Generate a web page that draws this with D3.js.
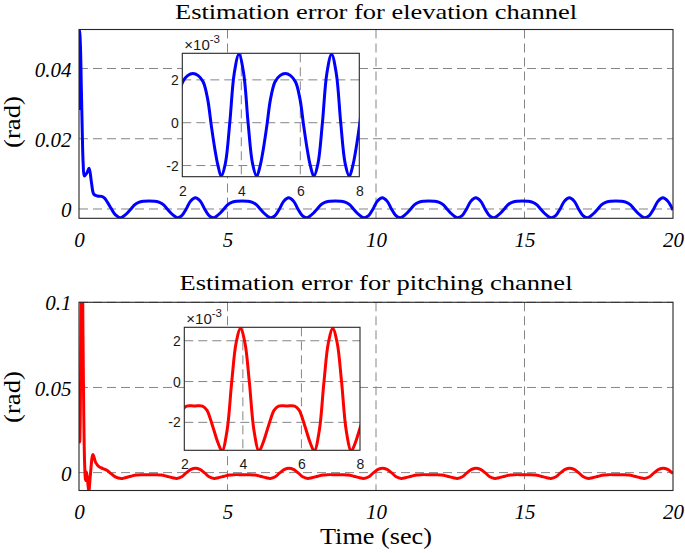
<!DOCTYPE html>
<html><head><meta charset="utf-8">
<script src="https://cdn.jsdelivr.net/npm/d3@7"></script>
<style>body{margin:0;background:#fff}svg{display:block}</style>
</head><body><svg id="c" width="685" height="553"></svg>
<script>
// ---------- data ----------
const timeElev = [0.00,0.02,0.05,0.08,0.11,0.14,0.18,0.26,0.34,0.42,0.50,0.62,0.76,0.86,0.96,1.08,1.22,1.40,
 1.51,1.62,1.74,1.86,2.01,2.18,2.36,2.54,2.71,2.86,2.98,3.10,3.21,3.32,
 3.46,3.61,3.76,3.92,4.08,4.23,4.38,4.52,
 4.64,4.75,4.87,4.99,5.14,5.31,5.49,5.67,5.84,5.99,6.11,6.23,6.34,6.46,
 6.60,6.75,6.90,7.06,7.22,7.37,7.52,7.66,
 7.78,7.89,8.01,8.13,8.28,8.45,8.63,8.81,8.98,9.13,9.25,9.37,9.48,9.60,
 9.75,9.90,10.05,10.21,10.37,10.52,10.67,10.81,
 10.93,11.04,11.16,11.28,11.43,11.60,11.78,11.96,12.13,12.28,12.40,12.52,12.63,12.75,
 12.90,13.05,13.20,13.36,13.52,13.67,13.82,13.96,
 14.08,14.19,14.31,14.43,14.58,14.75,14.93,15.11,15.28,15.43,15.55,15.67,15.78,15.90,
 16.05,16.20,16.35,16.51,16.67,16.82,16.97,17.11,
 17.23,17.34,17.46,17.58,17.73,17.90,18.08,18.26,18.43,18.58,18.70,18.82,18.93,19.05,
 19.20,19.35,19.50,19.66,19.82,20.00];
const errElev = [0.0282,0.0509,0.0460,0.0340,0.0220,0.0130,0.0094,0.0102,0.0116,0.0075,0.0042,0.0037,0.0036,0.0031,0.0019,0.0002,-0.0016,-0.0025,
 -0.0020,-0.0012,-0.0001,0.0011,0.0019,0.0022,0.0023,0.0022,0.0019,0.0011,-0.0001,-0.0012,-0.0020,-0.0025,
 -0.0019,0.0000,0.0023,0.0032,0.0023,0.0000,-0.0019,-0.0025,
 -0.0020,-0.0012,-0.0001,0.0011,0.0019,0.0022,0.0023,0.0022,0.0019,0.0011,-0.0001,-0.0012,-0.0020,-0.0025,
 -0.0019,0.0000,0.0023,0.0032,0.0023,0.0000,-0.0019,-0.0025,
 -0.0020,-0.0012,-0.0001,0.0011,0.0019,0.0022,0.0023,0.0022,0.0019,0.0011,-0.0001,-0.0012,-0.0020,-0.0025,
 -0.0019,0.0000,0.0023,0.0032,0.0023,0.0000,-0.0019,-0.0025,
 -0.0020,-0.0012,-0.0001,0.0011,0.0019,0.0022,0.0023,0.0022,0.0019,0.0011,-0.0001,-0.0012,-0.0020,-0.0025,
 -0.0019,0.0000,0.0023,0.0032,0.0023,0.0000,-0.0019,-0.0025,
 -0.0020,-0.0012,-0.0001,0.0011,0.0019,0.0022,0.0023,0.0022,0.0019,0.0011,-0.0001,-0.0012,-0.0020,-0.0025,
 -0.0019,0.0000,0.0023,0.0032,0.0023,0.0000,-0.0019,-0.0025,
 -0.0020,-0.0012,-0.0001,0.0011,0.0019,0.0022,0.0023,0.0022,0.0019,0.0011,-0.0001,-0.0012,-0.0020,-0.0025,
 -0.0019,0.0000,0.0023,0.0032,0.0023,-0.0003];

const timePitch = [0.000,0.008,0.016,0.025,0.040,0.060,0.085,0.110,0.135,0.160,0.190,0.220,0.250,0.280,0.330,0.380,0.470,0.560,0.670,0.800,0.950,1.080,1.220,1.420,
 1.55,1.75,1.93,2.08,2.35,2.62,2.77,2.95,3.15,3.29,
 3.46,3.62,3.77,3.92,4.07,4.22,4.38,4.55,
 4.69,4.89,5.07,5.22,5.50,5.77,5.92,6.10,6.30,6.44,
 6.61,6.77,6.92,7.07,7.22,7.37,7.53,7.70,
 7.84,8.04,8.22,8.37,8.65,8.92,9.07,9.25,9.45,9.59,
 9.76,9.92,10.07,10.22,10.37,10.52,10.68,10.85,
 10.99,11.19,11.37,11.52,11.80,12.07,12.22,12.40,12.60,12.74,
 12.91,13.07,13.22,13.37,13.52,13.67,13.83,14.00,
 14.14,14.34,14.52,14.67,14.95,15.22,15.37,15.55,15.75,15.89,
 16.06,16.22,16.37,16.52,16.67,16.82,16.98,17.15,
 17.29,17.49,17.67,17.82,18.10,18.37,18.52,18.70,18.90,19.04,
 19.21,19.37,19.52,19.67,19.82,20.00];
const errPitch = [0.0410,0.0250,0.0380,0.0180,0.0300,0.0700,0.1080,0.1150,0.0800,0.0350,0.0050,-0.0046,0.0003,-0.0030,-0.0112,-0.0020,0.0107,0.0060,0.0035,0.0024,0.0012,-0.0006,-0.0025,-0.0035,
 -0.0030,-0.0021,-0.0014,-0.0012,-0.0012,-0.0012,-0.0014,-0.0021,-0.0030,-0.0034,
 -0.0024,0.0000,0.0019,0.0026,0.0019,0.0000,-0.0024,-0.0034,
 -0.0030,-0.0021,-0.0014,-0.0012,-0.0012,-0.0012,-0.0014,-0.0021,-0.0030,-0.0034,
 -0.0024,0.0000,0.0019,0.0026,0.0019,0.0000,-0.0024,-0.0034,
 -0.0030,-0.0021,-0.0014,-0.0012,-0.0012,-0.0012,-0.0014,-0.0021,-0.0030,-0.0034,
 -0.0024,0.0000,0.0019,0.0026,0.0019,0.0000,-0.0024,-0.0034,
 -0.0030,-0.0021,-0.0014,-0.0012,-0.0012,-0.0012,-0.0014,-0.0021,-0.0030,-0.0034,
 -0.0024,0.0000,0.0019,0.0026,0.0019,0.0000,-0.0024,-0.0034,
 -0.0030,-0.0021,-0.0014,-0.0012,-0.0012,-0.0012,-0.0014,-0.0021,-0.0030,-0.0034,
 -0.0024,0.0000,0.0019,0.0026,0.0019,0.0000,-0.0024,-0.0034,
 -0.0030,-0.0021,-0.0014,-0.0012,-0.0012,-0.0012,-0.0014,-0.0021,-0.0030,-0.0034,
 -0.0024,0.0000,0.0019,0.0026,0.0019,-0.0005];

const xTicks = [0, 5, 10, 15, 20];
const xTickLabels = ['0', '5', '10', '15', '20'];
const yTicksElev = [0, 0.02, 0.04];
const yTickLabelsElev = ['0', '0.02', '0.04'];
const yTicksPitch = [0, 0.05, 0.1];
const yTickLabelsPitch = ['0', '0.05', '0.1'];
const insetXTicks = [2, 4, 6, 8];
const insetXTickLabels = ['2', '4', '6', '8'];
const insetYTicks = [-0.002, 0, 0.002];
const insetYTickLabels = ['-2', '0', '2'];
const titles = ['Estimation error for elevation channel', 'Estimation error for pitching channel'];
const yLabel = '(rad)';
const xLabel = 'Time (sec)';

// ---------- drawing ----------
const svg = d3.select('#c');
const SERIF = '"Liberation Serif","Times New Roman",serif';
const SANS = '"Liberation Sans",Arial,sans-serif';
const GRID = '#858585', BOX = '#262626';
let clipId = 0;

function grid(g, x, y, xs, ys, box) {
  xs.forEach(v => g.append('line').attr('x1', x(v)).attr('x2', x(v)).attr('y1', box.t).attr('y2', box.b)
    .attr('stroke', GRID).attr('stroke-width', 1).attr('stroke-dasharray', '9,5'));
  ys.forEach(v => g.append('line').attr('x1', box.l).attr('x2', box.r).attr('y1', y(v)).attr('y2', y(v))
    .attr('stroke', GRID).attr('stroke-width', 1).attr('stroke-dasharray', '9,5'));
}

function curve(g, x, y, ts, vs, color, box) {
  const id = 'clip' + (clipId++);
  svg.append('clipPath').attr('id', id).append('rect')
    .attr('x', box.l).attr('y', box.t).attr('width', box.r - box.l).attr('height', box.b - box.t);
  const pts = ts.map((t, i) => [t, vs[i]]);
  const line = d3.line().x(d => x(d[0])).y(d => y(d[1])).curve(d3.curveCatmullRom.alpha(0.5));
  g.append('path').attr('d', line(pts)).attr('fill', 'none').attr('stroke', color)
    .attr('stroke-width', 3).attr('stroke-linejoin', 'round').attr('clip-path', `url(#${id})`);
}

function panel(c) {
  const g = svg.append('g');
  const b = c.box;
  const x = d3.scaleLinear().domain([0, 20]).range([b.l, b.r]);
  const y = d3.scaleLinear().domain(c.yDomain).range([b.b, b.t]);
  grid(g, x, y, xTicks.filter(v => v > 0 && v < 20), c.yTicks, b);
  curve(g, x, y, c.ts, c.vs, c.color, b);
  g.append('rect').attr('x', b.l).attr('y', b.t).attr('width', b.r - b.l).attr('height', b.b - b.t)
    .attr('fill', 'none').attr('stroke', BOX).attr('stroke-width', 1.1);
  const ax = g.append('g').attr('transform', `translate(0,${b.b})`)
    .call(d3.axisBottom(x).tickValues(xTicks).tickFormat((d, i) => xTickLabels[i]).tickSize(0).tickPadding(13.5));
  const ay = g.append('g').attr('transform', `translate(${b.l},0)`)
    .call(d3.axisLeft(y).tickValues(c.yTicks).tickFormat((d, i) => c.yTickLabels[i]).tickSize(0).tickPadding(7.5));
  [ax, ay].forEach(a => {
    a.select('.domain').remove();
    a.selectAll('text').attr('font-family', SERIF).attr('font-style', 'italic')
      .attr('font-size', 21).attr('fill', '#000');
  });
  ay.selectAll('text').attr('dy', '0.36em');
  g.append('text').attr('x', (b.l + b.r) / 2).attr('y', c.titleY).attr('text-anchor', 'middle')
    .attr('font-family', SERIF).attr('font-size', 22).attr('fill', '#000')
    .attr('textLength', c.titleLen).attr('lengthAdjust', 'spacingAndGlyphs').text(c.title);
  g.append('text').attr('transform', `translate(12,${c.yLabelY}) rotate(-90)`)
    .attr('text-anchor', 'middle').attr('dy', '0.33em')
    .attr('font-family', SERIF).attr('font-size', 24).attr('fill', '#000')
    .attr('textLength', 52).attr('lengthAdjust', 'spacingAndGlyphs').text(yLabel);
  if (c.xLabel) {
    g.append('text').attr('x', (b.l + b.r) / 2).attr('y', 544).attr('text-anchor', 'middle')
      .attr('font-family', SERIF).attr('font-size', 24).attr('fill', '#000')
      .attr('textLength', 112).attr('lengthAdjust', 'spacingAndGlyphs').text(xLabel);
  }
  // inset
  const ib = c.inset;
  const gi = svg.append('g');
  const xi = d3.scaleLinear().domain([2, 8]).range([ib.l, ib.r]);
  const yi = d3.scaleLinear().domain(c.insetDomain).range([ib.b, ib.t]);
  gi.append('rect').attr('x', ib.l).attr('y', ib.t).attr('width', ib.r - ib.l).attr('height', ib.b - ib.t)
    .attr('fill', '#fff');
  grid(gi, xi, yi, [4, 6], insetYTicks, ib);
  const idx = c.ts.map((t, i) => i).filter(i => c.ts[i] >= 1.5 && c.ts[i] <= 8.5);
  curve(gi, xi, yi, idx.map(i => c.ts[i]), idx.map(i => c.vs[i]), c.color, ib);
  gi.append('rect').attr('x', ib.l).attr('y', ib.t).attr('width', ib.r - ib.l).attr('height', ib.b - ib.t)
    .attr('fill', 'none').attr('stroke', BOX).attr('stroke-width', 1.1);
  const ix = gi.append('g').attr('transform', `translate(0,${ib.b})`)
    .call(d3.axisBottom(xi).tickValues(insetXTicks).tickFormat((d, i) => insetXTickLabels[i]).tickSize(0).tickPadding(9));
  const iy = gi.append('g').attr('transform', `translate(${ib.l},0)`)
    .call(d3.axisLeft(yi).tickValues(insetYTicks).tickFormat((d, i) => insetYTickLabels[i]).tickSize(0).tickPadding(3.5));
  [ix, iy].forEach(a => {
    a.select('.domain').remove();
    a.selectAll('text').attr('font-family', SANS).attr('font-size', 14).attr('fill', '#1a1a1a');
  });
  const ex = gi.append('text').attr('x', ib.l + 2).attr('y', ib.t - 3)
    .attr('font-family', SANS).attr('font-size', 15).attr('fill', '#1a1a1a');
  ex.append('tspan').text('\u00d710');
  ex.append('tspan').attr('dy', -7).attr('font-size', 11.5).text('-3');
}

panel({
  box: {l: 79, r: 673, t: 29.5, b: 218.3},
  yDomain: [-0.00265, 0.0511], yTicks: yTicksElev, yTickLabels: yTickLabelsElev,
  ts: timeElev, vs: errElev, color: '#0000ff',
  title: titles[0], titleY: 18.5, titleLen: 402, yLabelY: 122,
  inset: {l: 182.3, r: 359.3, t: 53.3, b: 176.7}, insetDomain: [-0.00252, 0.00324]
});
panel({
  box: {l: 79, r: 673, t: 302.3, b: 490.5},
  yDomain: [-0.0105, 0.1], yTicks: yTicksPitch, yTickLabels: yTickLabelsPitch,
  ts: timePitch, vs: errPitch, color: '#ff0000',
  title: titles[1], titleY: 290, titleLen: 393, yLabelY: 397, xLabel: true,
  inset: {l: 184.3, r: 360, t: 327.3, b: 450.3}, insetDomain: [-0.00337, 0.00266]
});
</script></body></html>
